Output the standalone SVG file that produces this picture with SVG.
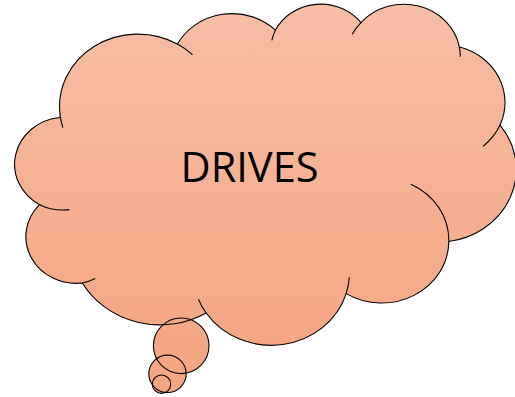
<svg xmlns="http://www.w3.org/2000/svg" xmlns:xlink="http://www.w3.org/1999/xlink" width="515" height="397" viewBox="0 0 515 397">
  <style>
    .fill { fill: url(#shade); stroke: none; }
    .line { fill: none; stroke: #000000; stroke-width: 1.1; }
    .label { font-family: "Open Sans", "Liberation Sans", sans-serif; font-size: 42px; fill: #000000; text-anchor: middle; }
  </style>
  <defs>
    <linearGradient id="shade" gradientUnits="userSpaceOnUse" x1="0" y1="3" x2="0" y2="344">
      <stop offset="0" stop-color="#F7BEA6"/>
      <stop offset="1" stop-color="#F5A784"/>
    </linearGradient>
    <path id="outline" d="M 60.23 116.43
      A 78.31 72.54 0 0 1 177.40 44.06
      A 61.85 57.36 0 0 1 275.46 30.13
      A 50.62 46.93 0 0 1 361.00 22.62
      A 56.33 52.06 0 0 1 459.40 47.06
      A 61.85 57.41 0 0 1 500.00 125.08
      A 78.57 72.78 0 0 1 448.80 241.45
      A 67.09 62.10 0 0 1 346.19 293.63
      A 78.30 72.74 0 0 1 206.14 312.97
      A 89.53 83.22 0 0 1 82.32 283.01
      A 50.56 46.71 0 0 1 39.53 204.69
      A 50.39 46.93 0 0 1 59.82 117.52 Z"/>
    <g id="bubbles">
      <circle cx="181.2" cy="345.8" r="27.8"/>
      <circle cx="167.5" cy="373.8" r="18.7"/>
      <circle cx="161.5" cy="384.2" r="9.2"/>
    </g>
  </defs>
  <g id="cloud-callout">
    <use xlink:href="#outline" href="#outline" class="fill"/>
    <use xlink:href="#bubbles" href="#bubbles" class="fill"/>
    <use xlink:href="#outline" href="#outline" class="line"/>
    <use xlink:href="#bubbles" href="#bubbles" class="line"/>
    <path class="line" d="M 69.4 209.6 A 50.39 46.93 0 0 1 39.53 204.69
      M 95.3 278.5 A 50.56 46.71 0 0 1 82.32 283.01
      M 206.14 312.97 A 78.30 72.74 0 0 1 198.4 299.2
      M 349.3 277.3 A 78.30 72.74 0 0 1 346.19 293.63
      M 410.8 184.2 A 67.09 62.10 0 0 1 448.80 241.45
      M 500.0 125.08 A 61.85 57.41 0 0 1 483.2 146.2
      M 459.40 47.06 A 56.33 52.06 0 0 1 460.3 56.8
      M 352.2 34.2 A 56.33 52.06 0 0 1 361.00 22.62
      M 271.8 40.3 A 50.62 46.93 0 0 1 275.46 30.13
      M 177.40 44.06 A 78.31 72.54 0 0 1 192.5 54.7
      M 62.9 127.6 A 78.31 72.54 0 0 1 60.23 116.43"/>
    <text class="label" x="249.5" y="182" textLength="138" lengthAdjust="spacingAndGlyphs">DRIVES</text>
  </g>
</svg>
